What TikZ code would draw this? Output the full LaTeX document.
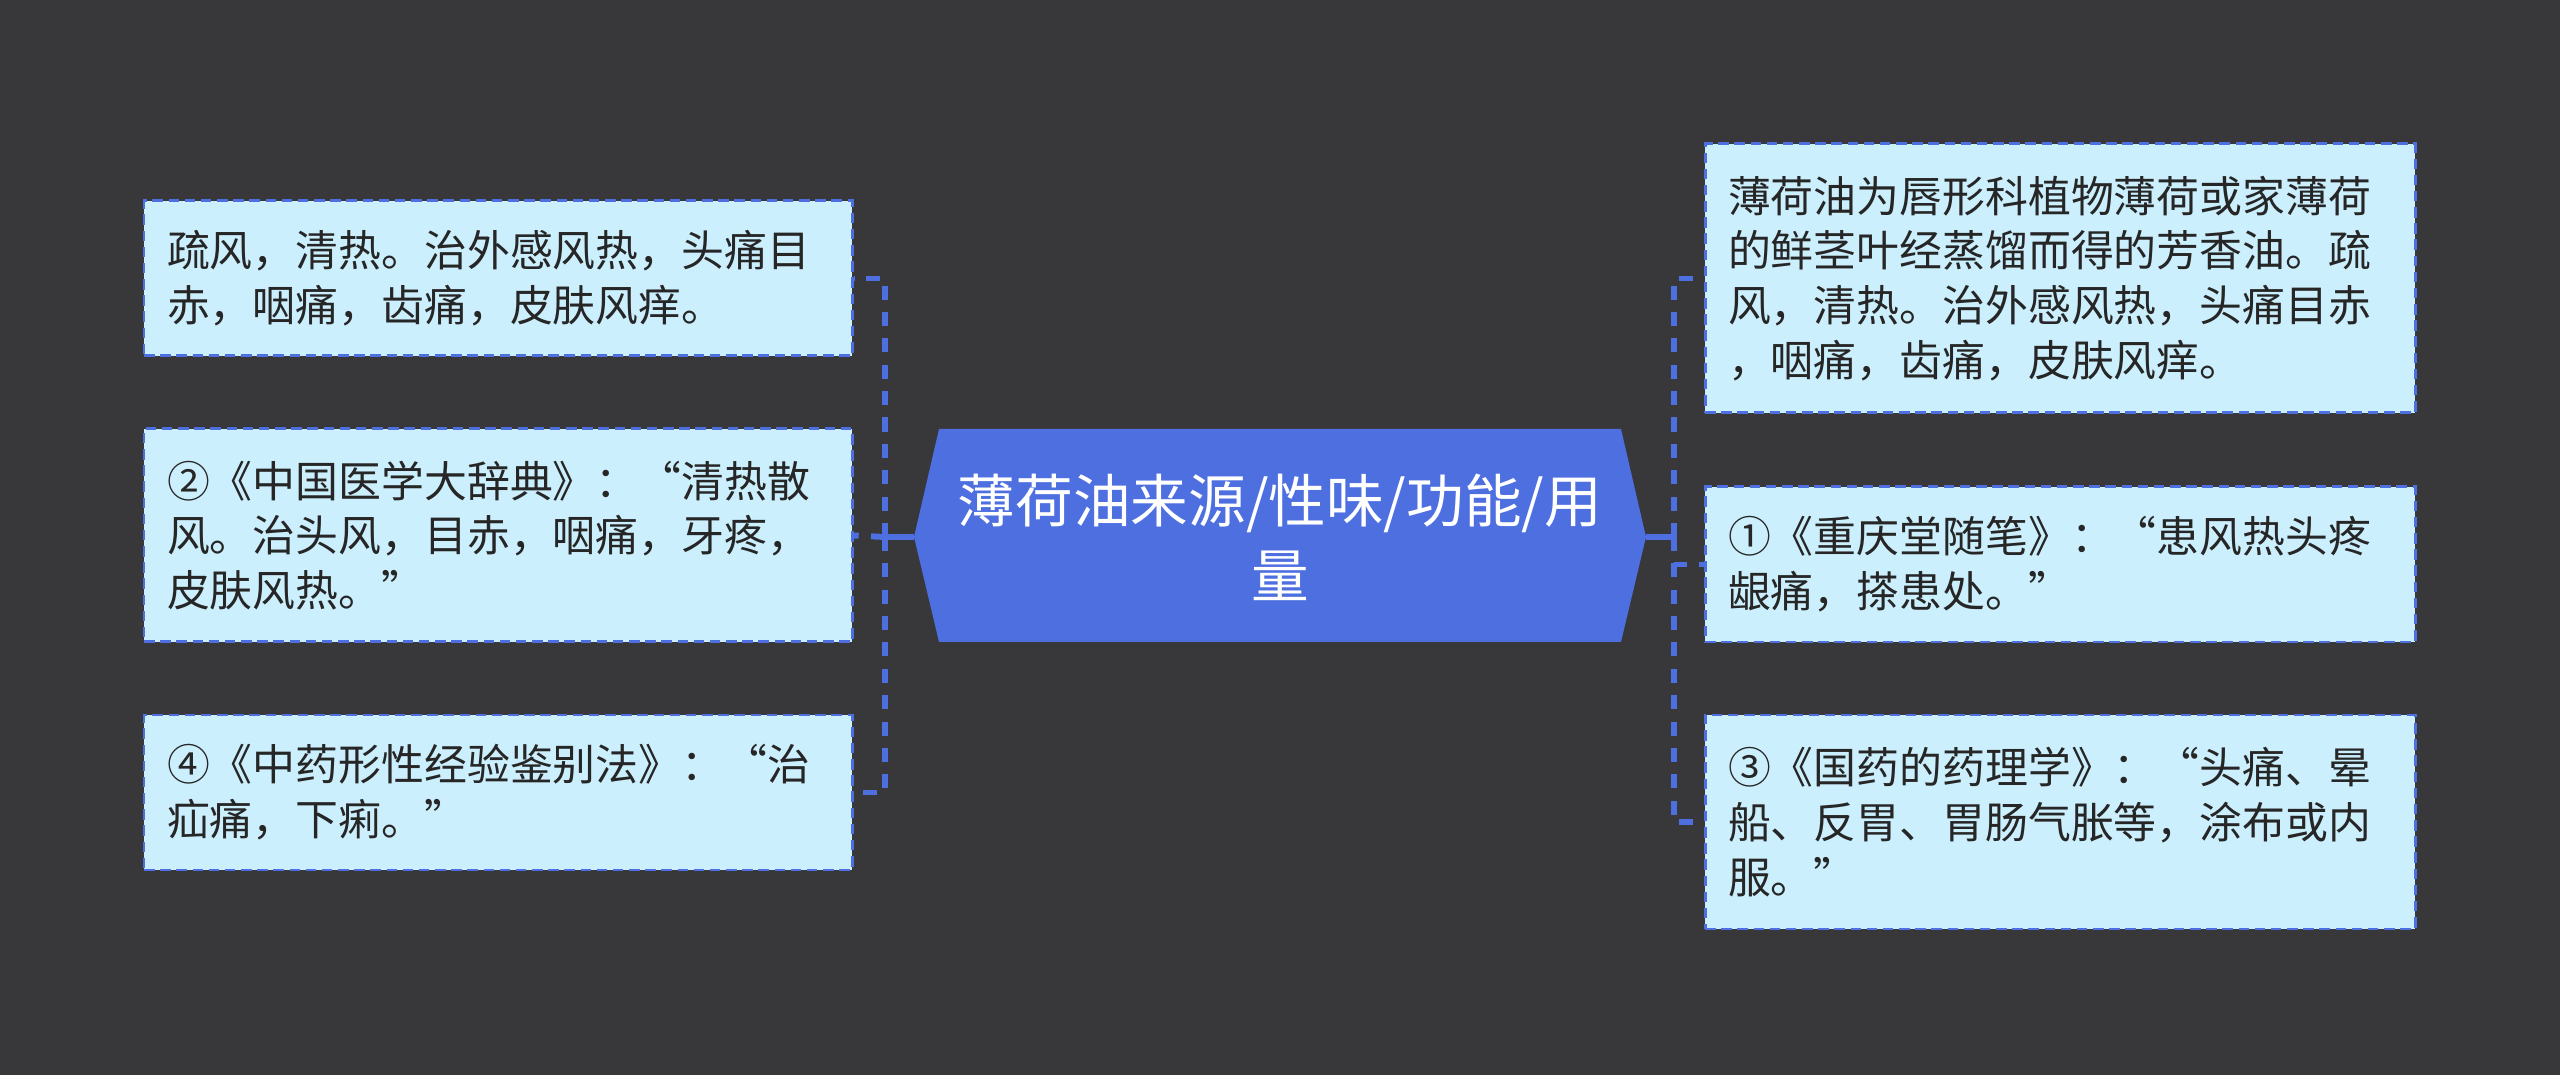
\documentclass[tikz,border=0pt]{standalone}
\usepackage{fontspec}
\newfontfamily\cjk{Noto Sans CJK SC}
\usetikzlibrary{positioning}
\definecolor{mapbg}{RGB}{56,55,58}
\definecolor{mapblue}{RGB}{77,111,224}
\definecolor{leafcyan}{RGB}{204,239,253}
\definecolor{leafink}{RGB}{38,38,38}

\begin{document}
\begin{tikzpicture}[
    leaf/.style={draw=mapblue,line width=0.85pt,dash pattern=on 3pt off 1.6pt,fill=leafcyan,text=leafink,
      align=left,text width=6.62cm,inner xsep=0.23cm,font=\cjk\fontsize{12.2pt}{15.6pt}\selectfont},
    link/.style={mapblue,line width=1.7pt,dash pattern=on 4pt off 3.5pt},
    trunk/.style={mapblue,line width=1.7pt}]
    \fill[mapbg] (0,0) rectangle (25.6,-10.75);
    % hub
    \fill[mapblue] (9.39,-4.29) -- (16.21,-4.29) -- (16.46,-5.37) -- (16.21,-6.42) -- (9.39,-6.42) -- (9.14,-5.37) -- cycle;
    \node[text=white,align=center,font=\cjk\fontsize{16.4pt}{21.3pt}\selectfont] (hub) at (12.80,-5.37) {薄荷油来源/性味/功能/用\\量};
    \coordinate (hubW) at (9.14,-5.37); \coordinate (hubE) at (16.46,-5.37);
    \coordinate (lbus) at (8.85,-5.37); \coordinate (rbus) at (16.74,-5.37);
    % left leaves
    \node[leaf,minimum height=1.55cm] (l1) at (4.98,-2.785) {疏风，清热。治外感风热，头痛目\\赤，咽痛，齿痛，皮肤风痒。};
    \node[leaf,minimum height=2.13cm] (l2) at (4.98,-5.355) {②《中国医学大辞典》：“清热散\\风。治头风，目赤，咽痛，牙疼，\\皮肤风热。”};
    \node[leaf,minimum height=1.55cm] (l3) at (4.98,-7.925) {④《中药形性经验鉴别法》：“治\\疝痛，下痢。”};
    % right leaves
    \node[leaf,text width=6.64cm,minimum height=2.69cm] (r1) at (20.60,-2.785) {薄荷油为唇形科植物薄荷或家薄荷\\的鲜茎叶经蒸馏而得的芳香油。疏\\风，清热。治外感风热，头痛目赤\\，咽痛，齿痛，皮肤风痒。};
    \node[leaf,text width=6.64cm,minimum height=1.55cm] (r2) at (20.60,-5.645) {①《重庆堂随笔》：“患风热头疼\\龈痛，搽患处。”};
    \node[leaf,text width=6.64cm,minimum height=2.14cm] (r3) at (20.60,-8.22) {③《国药的药理学》：“头痛、晕\\船、反胃、胃肠气胀等，涂布或内\\服。”};
    % connectors
    \draw[trunk] (hubW) -- (lbus);
    \draw[link] (lbus) |- (l1.east);
    \draw[link] (lbus) -- (l2.east);
    \draw[link] (lbus) |- (l3.east);
    \draw[trunk] (hubE) -- (rbus);
    \draw[link] (rbus) |- (r1.west);
    \draw[link] (rbus) |- (r2.west);
    \draw[link] (rbus) |- (r3.west);
\end{tikzpicture}
\end{document}
